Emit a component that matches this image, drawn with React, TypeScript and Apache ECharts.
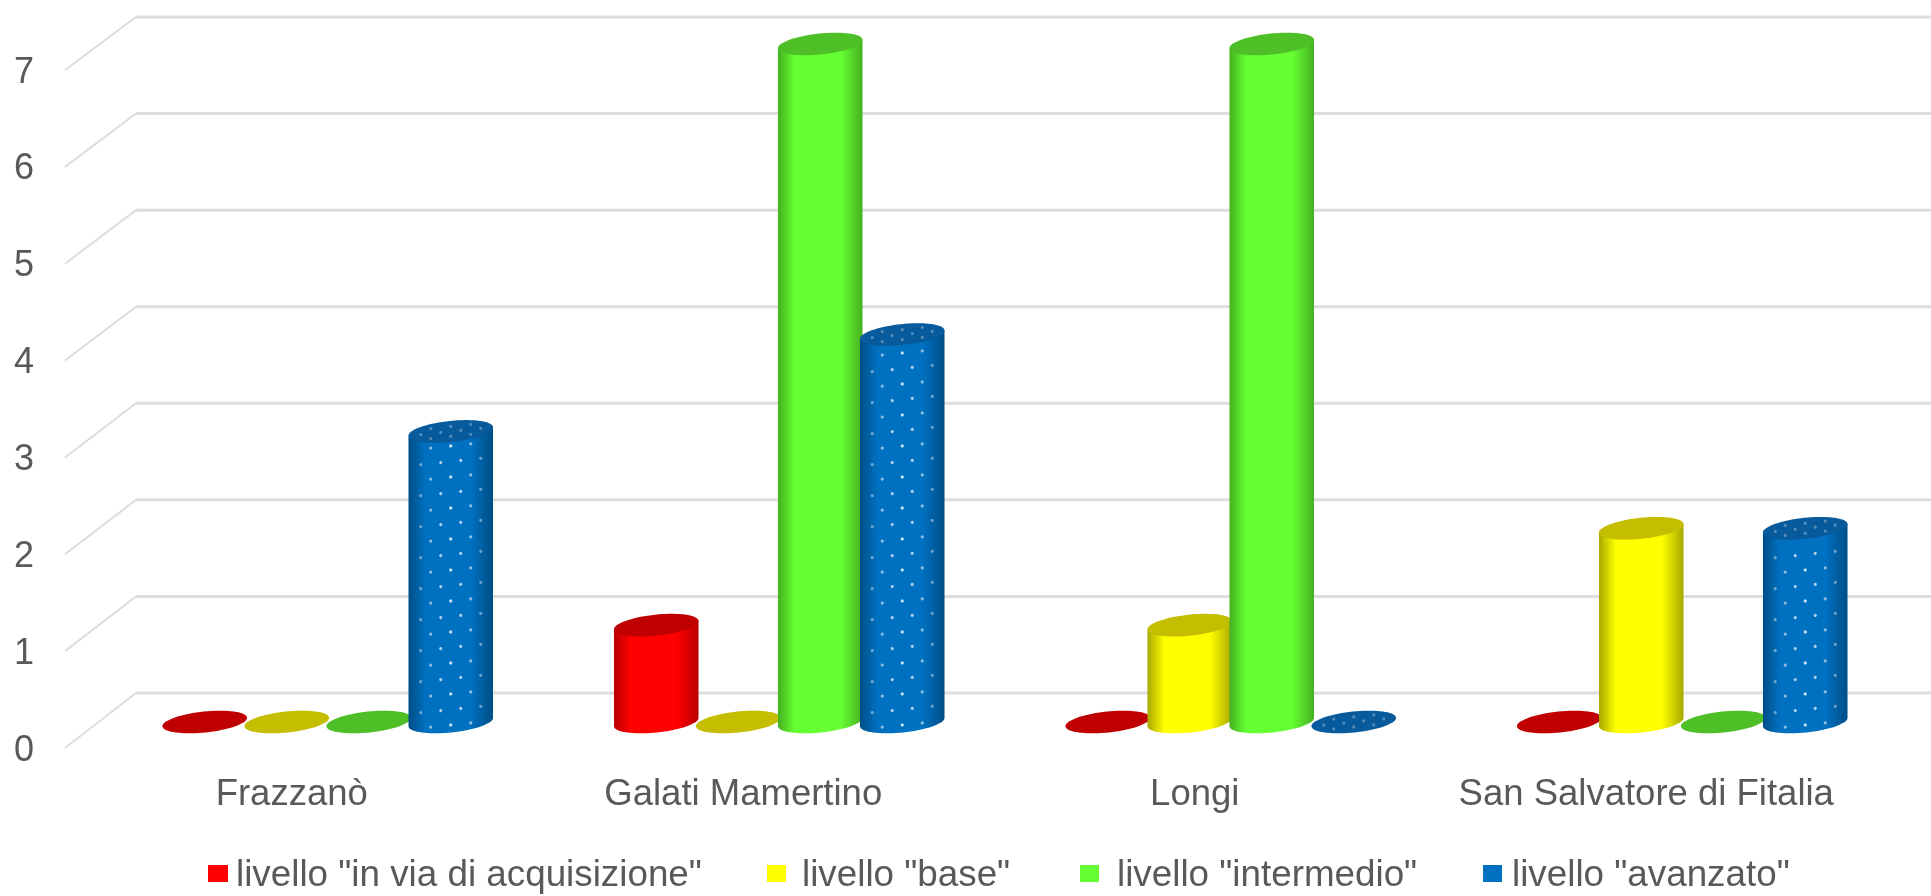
import React, { useEffect, useRef } from "react";
import * as echarts from "echarts";

const categories = ["Frazzanò", "Galati Mamertino", "Longi", "San Salvatore di Fitalia"];
const levels = ['livello "in via di acquisizione"', 'livello "base"', 'livello "intermedio"', 'livello "avanzato"'];
const inViaValues = [0, 1, 0, 0];
const baseValues = [0, 0, 1, 2];
const intermedioValues = [0, 7, 7, 0];
const avanzatoValues = [3, 4, 0, 2];
const seriesValues = [inViaValues, baseValues, intermedioValues, avanzatoValues];
const tickValues = [0, 1, 2, 3, 4, 5, 6, 7];

const bodyColors = ["#FF0000", "#FFFF00", "#66FF33", "#0070C0"];
const edgeColors = ["#B80000", "#A8A800", "#45B020", "#004E86"];
const capColors = ["#C00000", "#C4BD00", "#4EBF26", "#075A9C"];
const legendLefts = [208, 767, 1080, 1483];
const legendPads = [3, 11, 13, 5];

const FONT = "'Liberation Sans', Arial, sans-serif";
const TEXT = "#595959";
const RX = 42.5;
const RY = 10.5;
const TILT = 6;
const STEP = 82;
const DEPTH_X = 36;
const DEPTH_Y = 26;
const ARC_STEPS = 36;

const tiltRad = (TILT * Math.PI) / 180;

function rimPoint(cx: number, cy: number, t: number) {
  const c = Math.cos(t);
  const s = Math.sin(t);
  return [
    cx + RX * c * Math.cos(tiltRad) + RY * s * Math.sin(tiltRad),
    cy - RX * c * Math.sin(tiltRad) + RY * s * Math.cos(tiltRad),
  ];
}

function ellipsePoints(cx: number, cy: number) {
  const pts: number[][] = [];
  for (let i = 0; i < ARC_STEPS * 2; i++) pts.push(rimPoint(cx, cy, (i * Math.PI) / ARC_STEPS));
  return pts;
}

function bodyPoints(cx: number, top: number, bottom: number) {
  const pts: number[][] = [rimPoint(cx, top, Math.PI)];
  for (let i = ARC_STEPS; i >= 0; i--) pts.push(rimPoint(cx, bottom, (i * Math.PI) / ARC_STEPS));
  pts.push(rimPoint(cx, top, 0));
  return pts;
}

function dot(x: number, y: number, opacity: number) {
  return {
    type: "circle",
    shape: { cx: x, cy: y, r: 1.6 },
    style: { fill: "#FFFFFF", opacity },
    silent: true,
  };
}

function cylinderRenderer(level: number) {
  return (_params: any, api: any) => {
    const base = api.coord([api.value(0), 0]);
    const head = api.coord([api.value(0), api.value(1)]);
    const cx = base[0] + DEPTH_X + (level - 1.5) * STEP;
    const bottom = base[1] - DEPTH_Y;
    const top = head[1] - DEPTH_Y;
    const children: any[] = [];
    if (api.value(1) > 0) {
      children.push({
        type: "polygon",
        shape: { points: bodyPoints(cx, top, bottom) },
        style: {
          fill: new echarts.graphic.LinearGradient(0, 0, 1, 0, [
            { offset: 0, color: edgeColors[level] },
            { offset: 0.2, color: bodyColors[level] },
            { offset: 0.74, color: bodyColors[level] },
            { offset: 1, color: edgeColors[level] },
          ]),
        },
      });
    }
    children.push({
      type: "polygon",
      shape: { points: ellipsePoints(cx, top) },
      style: { fill: capColors[level] },
    });
    if (level === 3) {
      let row = 0;
      for (let y = bottom + 3; y > top + 14; y -= 15.5, row++) {
        if (api.value(1) === 0) break;
        const shift = row % 2 ? 10 : 0;
        for (let j = -3; j <= 3; j++) {
          const dx = j * 20 + shift;
          if (Math.abs(dx) > RX - 5) continue;
          children.push(dot(cx + dx, y - dx * Math.tan(tiltRad), 0.8 - (0.55 * Math.abs(dx)) / RX));
        }
      }
      [-5, 0, 5].forEach((off, i) => {
        for (let j = -3; j <= 3; j++) {
          const dx = j * 20 + (i % 2 ? 10 : 0);
          const inside = (dx * dx) / (RX * RX) + (off * off) / (RY * RY) < 0.8;
          if (inside) children.push(dot(cx + dx, top + off - dx * Math.tan(tiltRad), 0.3));
        }
      });
    }
    return { type: "group", children };
  };
}

function gridRenderer(params: any, api: any) {
  const v = api.value(1);
  const p = api.coord([0, v]);
  const left = params.coordSys.x - 1;
  const backX = left + 2 * DEPTH_X - 1;
  const backY = p[1] - 55 + (2 * v) / 7;
  return {
    type: "group",
    silent: true,
    children: [
      {
        type: "line",
        shape: { x1: left, y1: p[1], x2: backX, y2: backY },
        style: { stroke: "#DDDDDD", lineWidth: 2 },
      },
      {
        type: "line",
        shape: { x1: backX, y1: backY, x2: api.getWidth(), y2: backY },
        style: { stroke: "#DEDEDE", lineWidth: 3 },
      },
    ],
  };
}

export default function App() {
  const ref = useRef<HTMLDivElement>(null);
  useEffect(() => {
    const chart = echarts.init(ref.current!, undefined, { renderer: "svg" });
    chart.setOption({
      animation: false,
      backgroundColor: "#FFFFFF",
      textStyle: { fontFamily: FONT },
      grid: { left: 66, right: 59, top: 70, bottom: 148 },
      legend: levels.map((name, i) => ({
        data: [{ name, icon: "rect" }],
        left: legendLefts[i],
        top: 855,
        padding: 0,
        itemWidth: i === 0 ? 20 : 19,
        itemHeight: 17,
        selectedMode: false,
        textStyle: {
          color: TEXT,
          fontFamily: FONT,
          fontSize: 36.8,
          lineHeight: 34,
          padding: [0, 0, 0, legendPads[i]],
        },
      })),
      xAxis: {
        type: "category",
        data: categories,
        axisLine: { show: false },
        axisTick: { show: false },
        axisLabel: { color: TEXT, fontFamily: FONT, fontSize: 36.5, margin: 26, interval: 0 },
      },
      yAxis: {
        type: "value",
        min: 0,
        max: 7,
        interval: 1,
        axisLine: { show: false },
        axisTick: { show: false },
        splitLine: { show: false },
        axisLabel: { color: TEXT, fontFamily: FONT, fontSize: 36, margin: 32 },
      },
      series: [
        {
          type: "custom",
          name: "griglia",
          z: 1,
          silent: true,
          data: tickValues.map((v) => [0, v]),
          encode: { x: 0, y: 1 },
          renderItem: gridRenderer,
        },
        ...levels.map((name, i) => ({
          type: "custom",
          name,
          z: 2 + i,
          itemStyle: { color: bodyColors[i] },
          data: seriesValues[i].map((v, c) => [c, v]),
          encode: { x: 0, y: 1 },
          renderItem: cylinderRenderer(i),
        })),
      ],
    });
    return () => chart.dispose();
  }, []);
  return (
    <div
      ref={ref}
      style={{ position: "fixed", left: 0, top: 0, width: 1931, height: 896, filter: "blur(0.7px)" }}
    />
  );
}
